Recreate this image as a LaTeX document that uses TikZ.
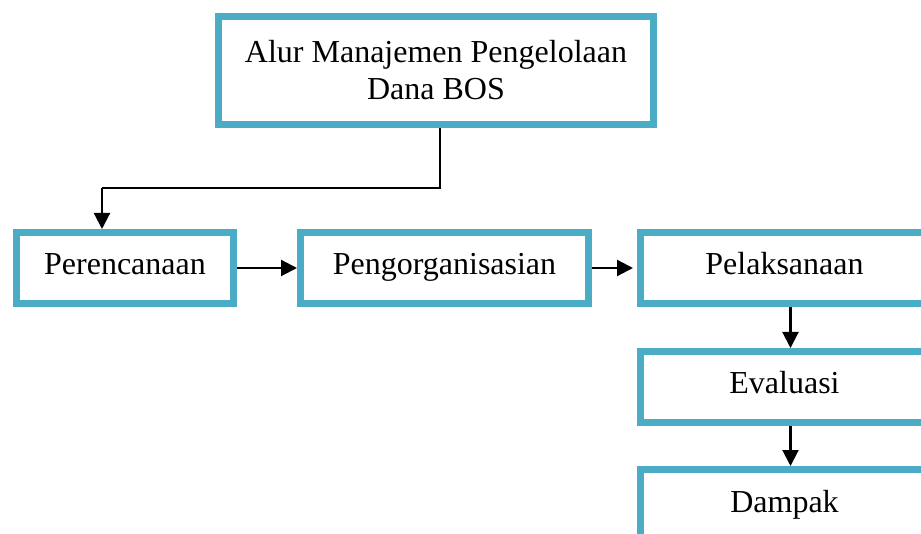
\documentclass[tikz,border=0pt]{standalone}
\usepackage{fontspec}
\setmainfont{Liberation Serif}
\usepackage{xcolor}
\usepackage{tikz}
\usetikzlibrary{arrows.meta,positioning}

\definecolor{tealbox}{RGB}{75,172,198}

\begin{document}
\begin{tikzpicture}[
    x=0.75pt, y=-0.75pt,
    box/.style={rectangle, draw=tealbox, line width=5.25pt, fill=white, minimum width=216pt, minimum height=53.25pt, font=\fontsize{24}{27.75}\selectfont, align=center, inner sep=0pt},
    stepbox/.style={box, text height=17pt, text depth=6.5pt},
    arrow/.style={-{Triangle[length=12pt, width=12pt]}, line width=1.6pt, black},
]
    \useasboundingbox (0,0) rectangle (921,534);
    \clip (0,0) rectangle (921,534);

    % Judul di atas
    \node[box, minimum width=326.25pt, minimum height=81pt] (judul) at (436,70.5) {Alur Manajemen Pengelolaan\\Dana BOS};

    % Baris tahapan
    \node[stepbox, minimum width=162.75pt] (perencanaan) at (125,268) {Perencanaan};
    \node[stepbox, right=45pt of perencanaan] (pengorganisasian) {Pengorganisasian};
    \node[stepbox, right=33.75pt of pengorganisasian] (pelaksanaan) {Pelaksanaan};

    % Kolom kanan
    \node[stepbox, below=30.75pt of pelaksanaan] (evaluasi) {Evaluasi};
    \node[stepbox, below=30pt of evaluasi] (dampak) {Dampak};

    % Panah dari judul ke perencanaan
    \coordinate (belok) at (102,188);
    \draw[arrow, -] ([xshift=3pt]judul.south) |- (belok);
    \draw[arrow] (belok) -- (belok |- perencanaan.north);

    % Panah antar tahapan
    \draw[arrow] (perencanaan) -- (pengorganisasian);
    \draw[arrow] (pengorganisasian) -- ([xshift=-3pt]pelaksanaan.west);
    \draw[arrow] ([xshift=4.5pt]pelaksanaan.south) -- ([xshift=4.5pt]evaluasi.north);
    \draw[arrow] ([xshift=4.5pt]evaluasi.south) -- ([xshift=4.5pt]dampak.north);
\end{tikzpicture}
\end{document}
